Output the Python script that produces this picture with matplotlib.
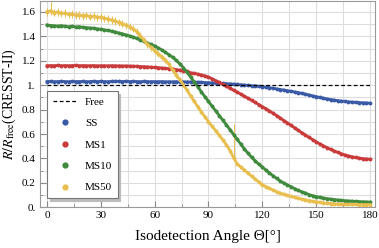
import numpy as np
import matplotlib.pyplot as plt
from matplotlib.lines import Line2D

plt.rcParams['font.family'] = ['Liberation Serif', 'DejaVu Serif']
plt.rcParams['mathtext.fontset'] = 'stix'

# isodetection angle (deg), one point every 2 degrees
angles = np.arange(0, 181, 2)

ss = [1.030, 1.031, 1.029, 1.030, 1.032, 1.030, 1.029, 1.031, 1.030, 1.030,
      1.031, 1.029, 1.030, 1.032, 1.030, 1.031, 1.030, 1.029, 1.031, 1.032,
      1.031, 1.030, 1.032, 1.030, 1.031, 1.030, 1.029, 1.031, 1.030, 1.029,
      1.030, 1.029, 1.030, 1.028, 1.029, 1.028, 1.029, 1.027, 1.028, 1.027,
      1.027,
      1.026, 1.025, 1.024, 1.022, 1.021, 1.019, 1.018, 1.016, 1.015, 1.013,
      1.011, 1.009, 1.006, 1.004, 1.001, 0.999, 0.996, 0.994, 0.991, 0.988,
      0.984, 0.980, 0.975, 0.970, 0.965, 0.960, 0.955, 0.950, 0.945, 0.940,
      0.933, 0.927, 0.920, 0.913, 0.906, 0.900, 0.894, 0.888, 0.883, 0.878,
      0.874, 0.870, 0.867, 0.864, 0.862, 0.860, 0.858, 0.856, 0.855, 0.853]

ms1 = [1.160, 1.161, 1.160, 1.162, 1.160, 1.161, 1.160, 1.161, 1.162, 1.160,
       1.161, 1.160, 1.160, 1.161, 1.159, 1.160, 1.160, 1.159, 1.160, 1.159,
       1.159, 1.158, 1.158, 1.157, 1.156, 1.155, 1.153, 1.152, 1.150, 1.148,
       1.146, 1.144, 1.141, 1.138, 1.135, 1.132, 1.128, 1.124, 1.120, 1.115,
       1.102, 1.097, 1.091, 1.084, 1.076, 1.067, 1.053, 1.038, 1.023, 1.007,
       0.991, 0.975, 0.959, 0.943, 0.927, 0.910, 0.893, 0.876, 0.859, 0.842,
       0.825, 0.807, 0.789, 0.770, 0.751, 0.731, 0.711, 0.691, 0.671, 0.651,
       0.631, 0.611, 0.592, 0.573, 0.555, 0.537, 0.520, 0.504, 0.489, 0.475,
       0.462, 0.450, 0.439, 0.429, 0.421, 0.414, 0.408, 0.403, 0.399, 0.396, 0.394]

ms10 = [1.494, 1.489, 1.487, 1.484, 1.488, 1.482, 1.479, 1.484, 1.477, 1.480,
        1.474, 1.472, 1.469, 1.467, 1.461, 1.459, 1.453, 1.449, 1.442, 1.436,
        1.428, 1.421, 1.412, 1.404, 1.394, 1.383, 1.371, 1.359, 1.346, 1.334,
        1.322, 1.306, 1.289, 1.270, 1.250, 1.228, 1.204, 1.176, 1.144, 1.107,
        1.068, 1.028, 0.988, 0.946, 0.906, 0.867, 0.828, 0.790, 0.752, 0.713,
        0.675, 0.636, 0.596, 0.557, 0.517, 0.478, 0.443, 0.410, 0.380, 0.354,
        0.330, 0.305, 0.281, 0.258, 0.236, 0.215, 0.198, 0.183, 0.169, 0.153,
        0.138, 0.127, 0.117, 0.104, 0.095, 0.088, 0.082, 0.076, 0.071, 0.067,
        0.063, 0.060, 0.057, 0.054, 0.052, 0.050, 0.048, 0.047, 0.045, 0.044, 0.043]

ms50 = [1.603, 1.610, 1.595, 1.600, 1.588, 1.592, 1.580, 1.584, 1.574, 1.577,
        1.569, 1.572, 1.563, 1.565, 1.556, 1.558, 1.548, 1.542, 1.535, 1.526,
        1.515, 1.505, 1.492, 1.478, 1.462, 1.440, 1.405, 1.370, 1.335, 1.310,
        1.282, 1.258, 1.232, 1.205, 1.170, 1.125, 1.085, 1.045, 1.005, 0.960,
        0.912, 0.868, 0.824, 0.782, 0.742, 0.702, 0.664, 0.628, 0.590, 0.552,
        0.512, 0.465, 0.405, 0.355, 0.330, 0.305, 0.280, 0.255, 0.232, 0.208,
        0.185, 0.170, 0.155, 0.141, 0.128, 0.116, 0.106, 0.097, 0.089, 0.081,
        0.074, 0.067, 0.061, 0.055, 0.049, 0.045, 0.041, 0.037, 0.034, 0.031,
        0.029, 0.027, 0.026, 0.025, 0.024, 0.023, 0.023, 0.022, 0.022, 0.022, 0.022]

# statistical uncertainty (relative), plus a couple of larger upward bars
ms10_rel_err = 0.006
ms50_rel_err = 0.02
ms50_big_up_err = {1: 0.07, 52: 0.28}

labels = ['SS', 'MS1', 'MS10', 'MS50']
colors = ['#3b5aa6', '#c93a3a', '#3f8a3c', '#e8bf4f']

ms10_err = np.array(ms10) * ms10_rel_err
ms50_lo = np.array(ms50) * ms50_rel_err
ms50_hi = ms50_lo.copy()
for i, e in ms50_big_up_err.items():
    ms50_hi[i] = e
ms50_err = np.vstack([ms50_lo, ms50_hi])

fig = plt.figure(figsize=(3.79, 2.48), dpi=100)
ax = fig.add_axes([40 / 379, 1 - 207.3 / 248, 335 / 379, 206.3 / 248])

series = [(ss, None), (ms1, None), (ms10, ms10_err), (ms50, ms50_err)]
for (vals, err), c in zip(series, colors):
    ax.errorbar(angles, vals, yerr=err, fmt='o-', lw=2.0, ms=2.8, mew=0, color=c,
                ecolor=c, elinewidth=0.7, capsize=1.1, capthick=0.7)

ax.plot([0, 180], [1, 1], ls=(0, (3, 2)), color='k', lw=0.9, zorder=5)

ax.set_xlim(-3.9, 182.8)
ax.set_ylim(0, 1.69)
ax.set_xticks(range(0, 181, 30))
ax.set_xticks(range(0, 181, 15), minor=True)
yt = [0, 0.2, 0.4, 0.6, 0.8, 1.0, 1.2, 1.4, 1.6]
ax.set_yticks(yt)
ax.set_yticklabels(['0.', '0.2', '0.4', '0.6', '0.8', '1.', '1.2', '1.4', '1.6'])
ax.set_yticks(np.arange(0.1, 1.7, 0.2), minor=True)
ax.grid(which='both', color='#dddddd', lw=0.8)
ax.set_axisbelow(True)
ax.tick_params(which='both', direction='in', labelsize=8, color='#888888', pad=3)
ax.tick_params(which='major', length=4)
ax.tick_params(which='minor', length=2)
for s in ax.spines.values():
    s.set_color('#999999')
    s.set_linewidth(0.8)

ax.set_xlabel('Isodetection Angle \u0398[\u00b0]', fontsize=11, labelpad=7)
ax.set_ylabel('$R/R_{\\mathrm{free}}$(CRESST-II)', fontsize=10, labelpad=3)

handles = [Line2D([], [], color='k', ls=(0, (3, 2)), lw=0.9)]
handles += [Line2D([], [], marker='o', ls='', color=c, ms=4.5, mew=0) for c in colors]
leg = ax.legend(handles, ['Free'] + labels, loc='lower left',
                bbox_to_anchor=(0.021, 0.045), fontsize=8, fancybox=False,
                edgecolor='#777777', framealpha=1, shadow={'color': '#bbbbbb', 'alpha': 1},
                handlelength=2.3, handletextpad=0.6, labelspacing=1.05,
                borderpad=0.5, borderaxespad=0)
leg.get_frame().set_linewidth(0.8)

fig.savefig('out.png', dpi=100)
